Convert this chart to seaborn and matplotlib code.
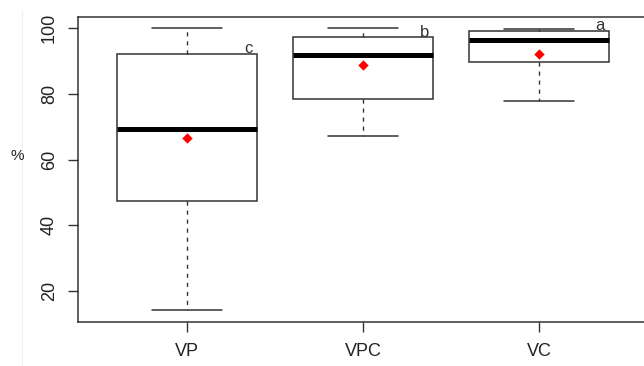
import numpy as np
import pandas as pd
import matplotlib
matplotlib.use("Agg")
import matplotlib.pyplot as plt
from matplotlib import font_manager
from matplotlib.lines import Line2D
import seaborn as sns

# ---- data ----
groups = ["VP", "VPC", "VC"]
whisker_low = [14.2, 67.2, 77.8]
q1 = [47.3, 78.5, 89.8]
median = [69.2, 91.7, 96.3]
q3 = [92.0, 97.4, 99.2]
whisker_high = [100.0, 100.0, 99.7]
means = [66.5, 88.8, 92.0]
letters = ["c", "b", "a"]
letter_y = [92.3, 97.35, 99.4]
y_ticks = [20, 40, 60, 80, 100]

# five-number summaries -> table for seaborn (quartiles reproduce exactly)
rows = []
for g, lo, a, m, b, hi in zip(groups, whisker_low, q1, median, q3, whisker_high):
    for v in (lo, a, m, b, hi):
        rows.append({"group": g, "value": v})
df = pd.DataFrame(rows)
mean_df = pd.DataFrame({"group": groups, "mean": means})

sns.set_style("white")
names = {f.name for f in font_manager.fontManager.ttflist}
if "Liberation Sans Narrow" in names:
    fam = ["Liberation Sans Narrow", "DejaVu Sans"]
    fs = 15
else:
    fam = ["Liberation Sans", "DejaVu Sans"]
    fs = 13
plt.rcParams["font.family"] = fam

W, H = 644, 366
fig = plt.figure(figsize=(W / 100, H / 100), dpi=100)
ax = fig.add_axes([78 / W, 44 / H, 570 / W, 305 / H])

edge = "#333333"
sns.boxplot(
    data=df, x="group", y="value", order=groups, ax=ax,
    whis=(0, 100), width=0.8, color="white", linecolor=edge, linewidth=1.1,
    showfliers=False,
    medianprops=dict(color="black", linewidth=3.6, solid_capstyle="butt"),
    whiskerprops=dict(linestyle=(0, (3, 3.5)), color=edge, linewidth=1.0),
    capprops=dict(color=edge, linewidth=1.1),
)
sns.scatterplot(data=mean_df, x="group", y="mean", ax=ax, marker="D",
                s=28, color="red", linewidth=0, zorder=5)

for i, (lt, ly) in enumerate(zip(letters, letter_y)):
    ax.text(i + 0.348, ly, lt, ha="center", va="baseline", fontsize=12,
            color="#333333")

ax.set_xlim(-0.62, 2.62)
ax.set_ylim(10.57, 103.35)
ax.set_yticks(y_ticks)
ax.set_yticklabels([str(t) for t in y_ticks])
ax.set_xlabel("")
ax.set_ylabel("")
for sp in ax.spines.values():
    sp.set_visible(True)
    sp.set_color(edge)
    sp.set_linewidth(1.1)
ax.tick_params(axis="both", direction="out", length=7.4, width=1.0,
               color=edge, labelsize=fs, labelcolor="#222222",
               bottom=True, left=True, top=False, right=False)
ax.tick_params(axis="y", pad=7)
ax.tick_params(axis="x", pad=8)
for lbl in ax.get_yticklabels():
    lbl.set_rotation(90)
    lbl.set_va("center")
    lbl.set_ha("right")

fig.text(17 / W, 1 - 156 / H, "%", ha="center", va="center",
         fontsize=fs - 2, color="#222222")
fig.add_artist(Line2D([22 / W, 22 / W], [0, 1 - 10 / H],
                      color="#f0f0f0", linewidth=0.8))

fig.savefig("out.png", dpi=100)
